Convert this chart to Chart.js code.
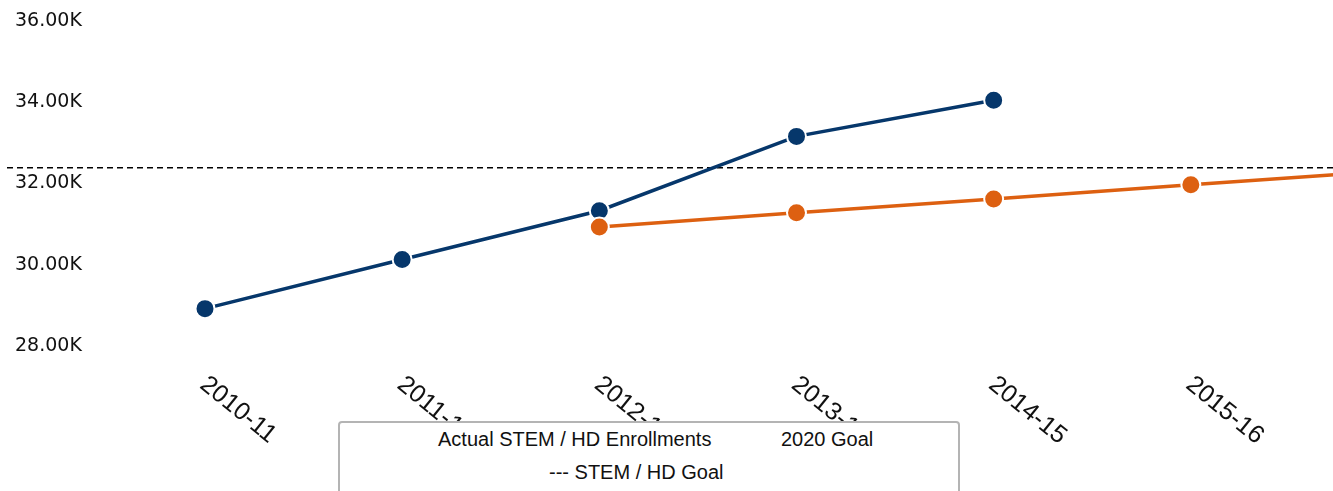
<!DOCTYPE html>
<html>
<head>
<meta charset="utf-8">
<script src="https://cdn.jsdelivr.net/npm/chart.js@4"></script>
<style>
  html, body { margin: 0; padding: 0; overflow: hidden; background: #fff; }
  #wrap { position: relative; width: 1400px; height: 491px; }
  #legendBox {
    position: absolute; left: 338px; top: 421px; width: 618px; height: 90px;
    background: #fff; border: 2px solid #b4b4b4; border-radius: 4px;
    font-family: "Liberation Sans", Arial, sans-serif; font-size: 20px; color: #111;
  }
  #legendBox span { position: absolute; white-space: nowrap; line-height: 20px; }
</style>
</head>
<body>
<div id="wrap">
  <canvas id="myChart"></canvas>
  <div id="legendBox">
    <span style="left:98px; top:6px;">Actual STEM / HD Enrollments</span>
    <span style="left:441px; top:6px;">2020 Goal</span>
    <span style="left:209px; top:39px;">--- STEM / HD Goal</span>
  </div>
</div>
<script>
const categories = ['2010-11', '2011-12', '2012-13', '2013-14', '2014-15', '2015-16', '2016-17'];
const actualEnrollments = [28920, 30130, 31330, 33160, 34050, null, null];
const goal2020 = [null, null, 30930, 31280, 31620, 31970, 32310];
const stemHdGoal = 32390;

const blue = '#06376b';
const orange = '#dd6011';

// dashed goal line across the whole width + rotated year labels
const overlay = {
  id: 'overlay',
  beforeDatasetsDraw(chart) {
    const ctx = chart.ctx;
    const y = chart.scales.y.getPixelForValue(stemHdGoal);
    ctx.save();
    ctx.setLineDash([6, 4]);
    ctx.lineWidth = 1.5;
    ctx.strokeStyle = '#000';
    ctx.beginPath();
    ctx.moveTo(7, y);
    ctx.lineTo(chart.width, y);
    ctx.stroke();
    ctx.restore();
  },
  afterDraw(chart) {
    const ctx = chart.ctx;
    const xs = chart.scales.x;
    const top = chart.chartArea.bottom + 26;
    ctx.save();
    ctx.font = '25px "Liberation Sans", Arial, sans-serif';
    ctx.fillStyle = '#111';
    ctx.textAlign = 'left';
    ctx.textBaseline = 'top';
    categories.forEach((c, i) => {
      const x = xs.getPixelForValue(i) + 6;
      ctx.save();
      ctx.translate(x, top);
      ctx.rotate(39 * Math.PI / 180);
      ctx.fillText(c, 0, 0);
      ctx.restore();
    });
    ctx.restore();
  }
};

const data = {
  labels: categories,
  datasets: [{
    label: 'Actual STEM / HD Enrollments',
    data: actualEnrollments,
    borderColor: blue,
    backgroundColor: blue,
    borderWidth: 3.5,
    pointRadius: 9.5,
    pointHoverRadius: 9.5,
    pointBorderColor: '#fff',
    pointBorderWidth: 2,
    order: 2
  }, {
    label: '2020 Goal',
    data: goal2020,
    borderColor: orange,
    backgroundColor: orange,
    borderWidth: 3.5,
    pointRadius: 9.5,
    pointHoverRadius: 9.5,
    pointBorderColor: '#fff',
    pointBorderWidth: 2,
    order: 1
  }]
};

const config = {
  type: 'line',
  data: data,
  options: {
    responsive: true,
    maintainAspectRatio: false,
    animation: false,
    layout: { padding: { top: 21, left: 15, right: 12, bottom: 145 } },
    plugins: { legend: { display: false }, tooltip: { enabled: false } },
    scales: {
      x: { display: false },
      y: {
        min: 28000,
        max: 36000,
        grid: { display: false },
        border: { display: false },
        afterFit(scale) { scale.width = 190; },
        ticks: {
          stepSize: 2000,
          crossAlign: 'far',
          color: '#111',
          font: { family: '"DejaVu Sans"', size: 19 },
          callback: v => (v / 1000).toFixed(2) + 'K'
        }
      }
    }
  },
  plugins: [overlay]
};

const myChart = new Chart(document.getElementById('myChart').getContext('2d'), config);
</script>
</body>
</html>
